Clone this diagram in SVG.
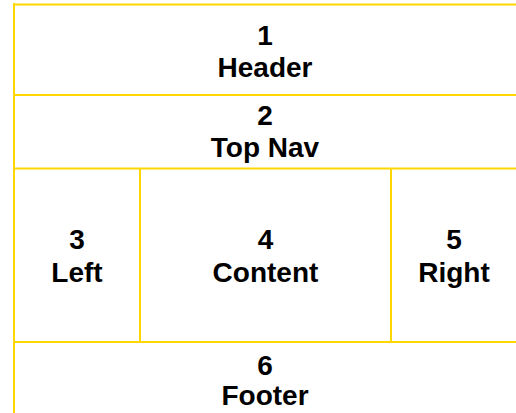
<svg xmlns="http://www.w3.org/2000/svg" width="516" height="413" viewBox="0 0 516 413">
  <style>
    .ln { stroke: #FFD700; stroke-width: 2; fill: none; }
    .t { font-family: "Liberation Sans", Arial, sans-serif; font-weight: bold; font-size: 28px; fill: #000; text-anchor: middle; }
  </style>
  <rect width="516" height="413" fill="#fff"/>
  <g id="grid">
    <line class="ln" x1="14" y1="3" x2="14" y2="413"/>
    <line class="ln" x1="13" y1="4.5" x2="516" y2="4.5"/>
    <line class="ln" x1="13" y1="95" x2="516" y2="95"/>
    <line class="ln" x1="13" y1="168.5" x2="516" y2="168.5"/>
    <line class="ln" x1="13" y1="342" x2="516" y2="342"/>
    <line class="ln" x1="140" y1="168.5" x2="140" y2="342"/>
    <line class="ln" x1="391" y1="168.5" x2="391" y2="342"/>
  </g>
  <g id="header">
    <text class="t" x="265" y="44.5">1</text>
    <text class="t" x="265" y="77">Header</text>
  </g>
  <g id="topnav">
    <text class="t" x="265" y="124.5">2</text>
    <text class="t" x="265" y="157">Top Nav</text>
  </g>
  <g id="left">
    <text class="t" x="77" y="248.5">3</text>
    <text class="t" x="77" y="281.5">Left</text>
  </g>
  <g id="content">
    <text class="t" x="265.5" y="248.5">4</text>
    <text class="t" x="265.5" y="281.5">Content</text>
  </g>
  <g id="right">
    <text class="t" x="454" y="248.5">5</text>
    <text class="t" x="454" y="281.5">Right</text>
  </g>
  <g id="footer">
    <text class="t" x="265" y="374.5">6</text>
    <text class="t" x="265" y="405">Footer</text>
  </g>
</svg>
